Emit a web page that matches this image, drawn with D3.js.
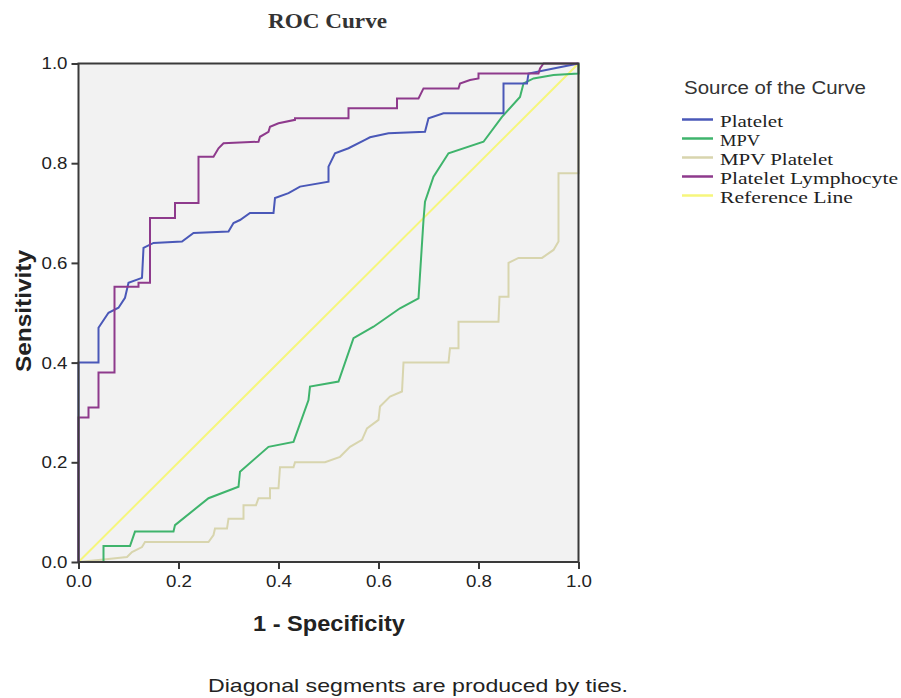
<!DOCTYPE html>
<html><head><meta charset="utf-8">
<script src="https://cdn.jsdelivr.net/npm/d3@7"></script>
<style>body{margin:0;background:#fff;}svg{display:block;}</style>
</head><body>
<script>
const seriesNames = ["Platelet","MPV","MPV Platelet","Platelet Lymphocyte","Reference Line"];
const seriesColors = ["#4a58b8","#3fb46c","#d8d5ae","#8e3a8c","#f6f67c"];
const xTicks = [0,0.2,0.4,0.6,0.8,1.0];
const yTicks = [0,0.2,0.4,0.6,0.8,1.0];

const platelet = [[0,0],[0,0.40],[0.04,0.40],[0.04,0.47],[0.06,0.50],[0.08,0.51],[0.093,0.53],[0.10,0.56],[0.127,0.57],[0.13,0.63],[0.15,0.64],[0.207,0.643],[0.23,0.66],[0.30,0.663],[0.31,0.68],[0.323,0.686],[0.343,0.70],[0.39,0.70],[0.393,0.73],[0.42,0.74],[0.443,0.753],[0.50,0.763],[0.50,0.793],[0.513,0.82],[0.54,0.83],[0.573,0.847],[0.583,0.852],[0.62,0.86],[0.693,0.863],[0.70,0.89],[0.73,0.90],[0.85,0.90],[0.85,0.96],[0.897,0.96],[0.90,0.98],[0.95,0.99],[1,1]];
const mpv = [[0,0],[0.05,0],[0.05,0.032],[0.103,0.032],[0.113,0.061],[0.19,0.061],[0.193,0.074],[0.26,0.128],[0.32,0.151],[0.323,0.181],[0.38,0.231],[0.43,0.241],[0.46,0.325],[0.463,0.352],[0.52,0.362],[0.55,0.449],[0.59,0.472],[0.643,0.509],[0.68,0.529],[0.69,0.686],[0.693,0.723],[0.71,0.773],[0.74,0.82],[0.81,0.843],[0.847,0.893],[0.883,0.933],[0.89,0.96],[0.91,0.97],[0.95,0.977],[1,0.98],[1,1]];
const mpvPlatelet = [[0,0],[0.05,0.005],[0.097,0.01],[0.107,0.02],[0.127,0.03],[0.133,0.04],[0.26,0.04],[0.27,0.054],[0.273,0.067],[0.297,0.067],[0.30,0.087],[0.33,0.087],[0.33,0.114],[0.355,0.114],[0.36,0.128],[0.383,0.128],[0.383,0.148],[0.40,0.148],[0.403,0.19],[0.43,0.19],[0.433,0.20],[0.493,0.20],[0.523,0.211],[0.543,0.231],[0.567,0.245],[0.577,0.268],[0.60,0.285],[0.603,0.312],[0.623,0.332],[0.647,0.342],[0.65,0.40],[0.74,0.40],[0.743,0.429],[0.76,0.429],[0.76,0.482],[0.84,0.482],[0.842,0.532],[0.86,0.532],[0.86,0.60],[0.88,0.61],[0.927,0.61],[0.95,0.626],[0.96,0.643],[0.96,0.78],[1,0.78],[1,1]];
const plateletLymphocyte = [[0,0],[0,0.29],[0.02,0.29],[0.02,0.31],[0.04,0.31],[0.04,0.38],[0.072,0.38],[0.072,0.552],[0.12,0.552],[0.12,0.56],[0.143,0.56],[0.143,0.69],[0.193,0.69],[0.193,0.72],[0.24,0.72],[0.24,0.813],[0.27,0.813],[0.28,0.83],[0.29,0.84],[0.36,0.843],[0.363,0.853],[0.38,0.863],[0.383,0.873],[0.40,0.88],[0.433,0.887],[0.433,0.89],[0.54,0.89],[0.54,0.91],[0.637,0.91],[0.637,0.93],[0.68,0.93],[0.69,0.95],[0.76,0.95],[0.763,0.96],[0.783,0.967],[0.80,0.97],[0.80,0.98],[0.92,0.98],[0.923,0.99],[0.93,1.0],[1,1]];
const referenceLine = [[0,0],[1,1]];

const W = 901, H = 698;
const svg = d3.select("body").append("svg").attr("width", W).attr("height", H);
const x = d3.scaleLinear().domain([0,1]).range([78.5, 578.5]);
const y = d3.scaleLinear().domain([0,1]).range([562, 63.5]);
const SANS = "Liberation Sans, Arial, sans-serif";
const SERIF = "Liberation Serif, serif";

svg.append("rect").attr("x", x(0)).attr("y", y(1)).attr("width", x(1)-x(0)).attr("height", y(0)-y(1)).attr("fill", "#f2f2f2");

const line = d3.line().x(d => x(d[0])).y(d => y(d[1]));
const data = [platelet, mpv, mpvPlatelet, plateletLymphocyte, referenceLine];
const order = [4, 2, 1, 0, 3];
order.forEach(i => {
  svg.append("path").datum(data[i]).attr("d", line).attr("fill", "none")
    .attr("stroke", seriesColors[i]).attr("stroke-width", 2).attr("stroke-linejoin", "miter");
});

svg.append("rect").attr("x", x(0)).attr("y", y(1)).attr("width", x(1)-x(0)).attr("height", y(0)-y(1))
  .attr("fill", "none").attr("stroke", "#3a3a3a").attr("stroke-width", 2);

const fmt = d3.format(".1f");
const xa = svg.append("g").attr("transform", `translate(0,${y(0)})`)
  .call(d3.axisBottom(x).tickValues(xTicks).tickFormat(fmt).tickSize(7).tickPadding(6));
const ya = svg.append("g").attr("transform", `translate(${x(0)},0)`)
  .call(d3.axisLeft(y).tickValues(yTicks).tickFormat(fmt).tickSize(7).tickPadding(4));
[xa, ya].forEach(a => {
  a.select(".domain").remove();
  a.selectAll("line").attr("stroke", "#3a3a3a").attr("stroke-width", 2);
  a.selectAll("text").attr("font-family", SANS).attr("font-size", 17).attr("fill", "#222")
    .attr("textLength", 26).attr("lengthAdjust", "spacingAndGlyphs");
});

function label(xx, yy, txt, font, size, weight, len, color) {
  return svg.append("text").attr("x", xx).attr("y", yy).attr("text-anchor", "middle")
    .attr("font-family", font).attr("font-weight", weight).attr("font-size", size)
    .attr("fill", color).attr("textLength", len).attr("lengthAdjust", "spacingAndGlyphs").text(txt);
}
label(327.5, 28, "ROC Curve", SERIF, 20, "bold", 119, "#333");
label(329, 631, "1 - Specificity", SANS, 22, "bold", 152, "#222");
label(0, 0, "Sensitivity", SANS, 22, "bold", 122, "#222").attr("transform", "translate(31,311) rotate(-90)");
label(418, 692, "Diagonal segments are produced by ties.", SANS, 19, "normal", 420, "#222");

svg.append("text").attr("x", 684).attr("y", 94)
  .attr("font-family", SANS).attr("font-size", 18).attr("fill", "#333")
  .attr("textLength", 182).attr("lengthAdjust", "spacingAndGlyphs").text("Source of the Curve");
const legendWidths = [63, 40, 113, 178, 133];
const lg = svg.append("g");
seriesNames.forEach((n, i) => {
  const yy = 119.5 + i * 19;
  lg.append("line").attr("x1", 682).attr("x2", 713).attr("y1", yy).attr("y2", yy)
    .attr("stroke", seriesColors[i]).attr("stroke-width", 2.5);
  lg.append("text").attr("x", 720).attr("y", yy + 7)
    .attr("font-family", SERIF).attr("font-size", 17).attr("fill", "#222")
    .attr("textLength", legendWidths[i]).attr("lengthAdjust", "spacingAndGlyphs").text(n);
});
</script>
</body></html>
